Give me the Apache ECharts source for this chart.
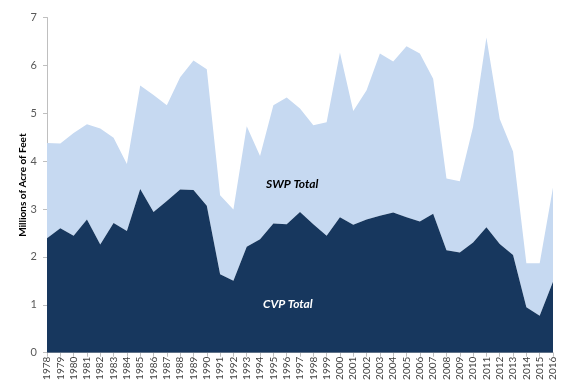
<!DOCTYPE html>
<html>
<head>
<meta charset="utf-8">
<script src="https://cdn.jsdelivr.net/npm/echarts@6/dist/echarts.min.js"></script>
<style>html,body{margin:0;padding:0;background:#fff;}#c{width:575px;height:392px;}</style>
</head>
<body>
<div id="c"></div>
<script>
const years = ['1978','1979','1980','1981','1982','1983','1984','1985','1986','1987','1988','1989','1990','1991','1992','1993','1994','1995','1996','1997','1998','1999','2000','2001','2002','2003','2004','2005','2006','2007','2008','2009','2010','2011','2012','2013','2014','2015','2016'];
const cvpTotal = [2.39,2.60,2.44,2.78,2.26,2.71,2.54,3.42,2.94,3.17,3.41,3.40,3.07,1.64,1.50,2.21,2.37,2.70,2.68,2.94,2.68,2.44,2.83,2.67,2.78,2.86,2.93,2.83,2.74,2.90,2.14,2.09,2.30,2.62,2.27,2.04,0.95,0.77,1.48];
const swpTotal = [1.99,1.77,2.15,1.99,2.42,1.78,1.40,2.16,2.44,2.00,2.34,2.70,2.85,1.65,1.49,2.52,1.74,2.47,2.65,2.16,2.07,2.37,3.44,2.38,2.70,3.39,3.15,3.57,3.51,2.82,1.50,1.49,2.42,3.96,2.61,2.16,0.92,1.10,1.97];
const yTicks = [0,1,2,3,4,5,6,7];
const axisName = 'Millions of Acre of Feet';
const seriesNames = ['CVP Total','SWP Total'];

const chart = echarts.init(document.getElementById('c'), null, {renderer:'canvas'});
chart.setOption({
  animation:false,
  backgroundColor:'#fff',
  grid:{left:47, right:22, top:17.5, bottom:39.3, containLabel:false},
  xAxis:{
    type:'category', data:years, boundaryGap:false,
    axisLine:{lineStyle:{color:'#bfbfbf'}},
    axisTick:{show:true, alignWithLabel:true, length:4, lineStyle:{color:'#bfbfbf'}},
    axisLabel:{rotate:90, interval:0, color:'#404040', fontSize:10, fontFamily:'Lato, "Liberation Sans", sans-serif', margin:4}
  },
  yAxis:{
    type:'value', min:yTicks[0], max:yTicks[yTicks.length-1], interval:1,
    name:axisName, nameLocation:'middle', nameGap:19, nameRotate:90, nameMoveOverlap:false,
    nameTextStyle:{fontWeight:'bold', fontSize:10, color:'#000', fontFamily:'Lato, "Liberation Sans", sans-serif'},
    axisLine:{show:true, lineStyle:{color:'#bfbfbf'}},
    axisTick:{show:true, length:4, lineStyle:{color:'#bfbfbf'}},
    splitLine:{show:false},
    axisLabel:{color:'#595959', fontSize:11, fontFamily:'Lato, "Liberation Sans", sans-serif', margin:10}
  },
  series:[
    {name:seriesNames[0], type:'line', stack:'t', data:cvpTotal, symbol:'none', lineStyle:{width:0}, areaStyle:{color:'#17375e', opacity:1}, z:3},
    {name:seriesNames[1], type:'line', stack:'t', data:swpTotal, symbol:'none', lineStyle:{width:0}, areaStyle:{color:'#c6d9f1', opacity:1}, z:2}
  ],
  graphic:[
    {type:'text', left:266, top:178, style:{text:'SWP Total', fill:'#000', font:'italic bold 12px Lato, "Liberation Sans", sans-serif'}, z:10},
    {type:'text', left:263, top:298, style:{text:'CVP Total', fill:'#fff', font:'italic bold 12px Lato, "Liberation Sans", sans-serif'}, z:10}
  ]
});
</script>
</body>
</html>
